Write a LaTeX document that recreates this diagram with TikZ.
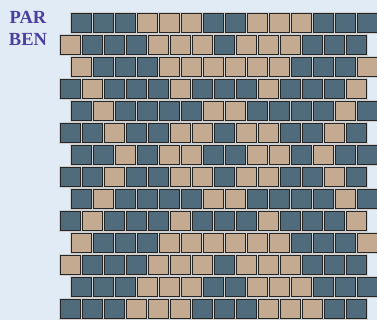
\documentclass[tikz,border=0pt]{standalone}
\usepackage{fontspec}
\setmainfont{Liberation Serif}
\definecolor{bgc}{HTML}{E1EBF5}
\definecolor{tileB}{HTML}{506B7C}
\definecolor{tileT}{HTML}{C4AA91}
\definecolor{mortar}{HTML}{D0D0D0}
\definecolor{edgec}{HTML}{262626}
\definecolor{txtc}{HTML}{4B3F9F}
\tikzset{
  tilebox/.style={draw=edgec, line width=1pt},
  mortarbox/.style={fill=mortar},
  title/.style={font=\bfseries\fontsize{18.5}{20}\selectfont, text=txtc, inner sep=0pt}
}
\begin{document}
\begin{tikzpicture}[x=1pt,y=-1pt]
\fill[bgc] (0,0) rectangle (377,320);
\useasboundingbox (0,0) rectangle (377,320);
\clip (0,0) rectangle (377,320);
\foreach \r/\pat in {
  0/{B,B,B,T,T,T,B,B,T,T,T,B,B,B},
  1/{T,B,B,B,T,T,T,B,T,T,T,B,B,B},
  2/{T,B,B,B,T,T,T,T,T,T,B,B,B,T},
  3/{B,T,B,B,B,T,B,B,B,T,B,B,B,T},
  4/{B,T,B,B,B,B,T,T,B,B,B,B,T,B},
  5/{B,B,T,B,B,T,T,B,T,T,B,B,T,B},
  6/{B,B,T,B,T,T,B,B,T,T,B,T,B,B},
  7/{B,B,T,B,B,T,T,B,T,T,B,B,T,B},
  8/{B,T,B,B,B,B,T,T,B,B,B,B,T,B},
  9/{B,T,B,B,B,T,B,B,B,T,B,B,B,T},
  10/{T,B,B,B,T,T,T,T,T,T,B,B,B,T},
  11/{T,B,B,B,T,T,T,B,T,T,T,B,B,B},
  12/{B,B,B,T,T,T,B,B,T,T,T,B,B,B},
  13/{B,B,B,T,T,T,B,B,B,T,T,T,B,B}}{
  \pgfmathsetmacro\xo{ifthenelse(mod(\r,2)==0,71.3,60.3)}
  \pgfmathsetmacro\yo{12.7+\r*22}
  \foreach \c [count=\k from 0] in \pat {
    \fill[mortarbox] ({\xo+\k*22-1},{\yo-1}) rectangle ++(22.5,22.5);
    \draw[tilebox, fill=tile\c] ({\xo+\k*22+0.5},{\yo+0.5}) rectangle ++(19.5,19.5);
  }
}
\node[title] (par) at (28,17.7) {PAR};
\node[title] (ben) at (28,39.5) {BEN};
\end{tikzpicture}
\end{document}
